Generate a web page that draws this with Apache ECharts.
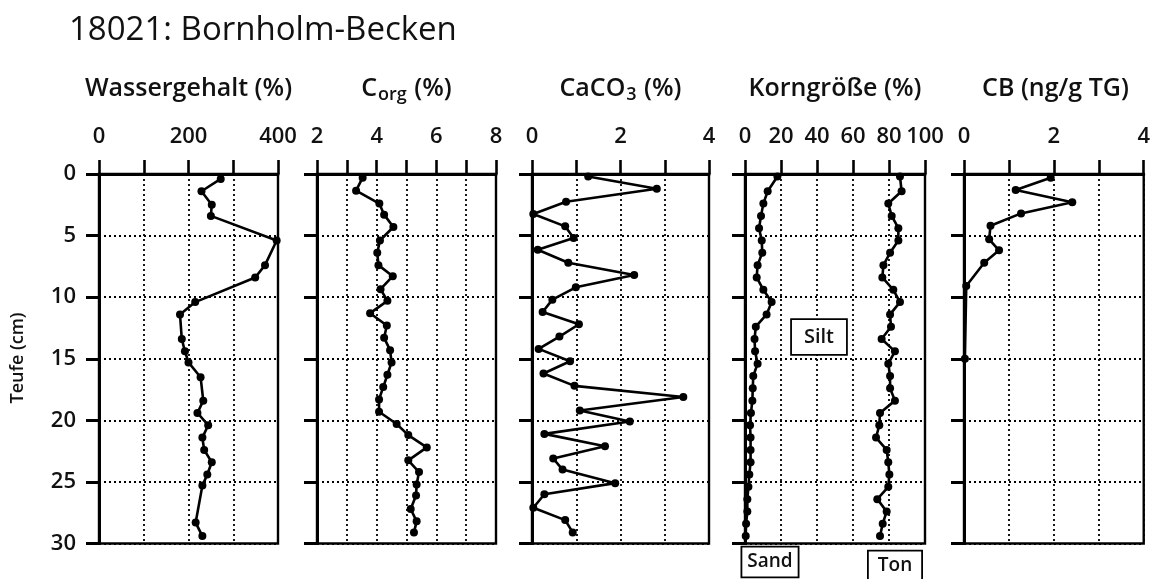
<!DOCTYPE html>
<html><head><meta charset="utf-8">
<script src="https://cdn.jsdelivr.net/npm/echarts@6/dist/echarts.min.js"></script>
<style>html,body{margin:0;padding:0;background:#fff}#c{width:1153px;height:579px}</style>
</head><body><div id="c"></div>
<script>
// ---- data ----
const depthTicks = [0, 5, 10, 15, 20, 25, 30];

const depthW = [0.4,1.4,2.5,3.4,5.4,7.4,8.4,10.4,11.4,13.4,14.4,15.3,16.5,18.4,19.4,20.4,21.4,22.4,23.4,24.4,25.3,28.3,29.4];
const wasser = [272,229,252,250,397,371,349,215,181,185,192,200,227,233,220,244,231,235,252,242,231,216,231];

const depthC = [0.3,1.35,2.4,3.3,4.3,5.4,6.4,7.4,8.3,9.35,10.3,11.3,12.3,13.3,14.3,15.3,16.3,17.3,18.3,19.3,20.3,21.2,22.2,23.25,24.2,25.2,26.1,27.2,28.2,29.1];
const corg = [3.53,3.31,4.09,4.25,4.56,4.11,4.02,4.06,4.54,4.13,4.36,3.78,4.34,4.25,4.45,4.5,4.36,4.22,4.08,4.08,4.67,5.06,5.68,5.06,5.42,5.34,5.32,5.14,5.34,5.25];

const depthK = [0.2,1.2,2.25,3.25,4.25,5.2,6.15,7.2,8.2,9.2,10.2,11.2,12.2,13.2,14.2,15.2,16.2,17.2,18.1,19.2,20.1,21.1,22.1,23.1,24.0,25.1,26.0,27.1,28.1,29.1];
const caco3 = [1.27,2.82,0.77,0.03,0.75,0.94,0.13,0.82,2.31,0.99,0.46,0.24,1.06,0.62,0.15,0.86,0.26,0.96,3.42,1.08,2.21,0.28,1.65,0.48,0.69,1.88,0.28,0.03,0.75,0.92];

const depthG = [0.2,1.4,2.4,3.4,4.4,5.4,6.4,7.4,8.4,9.4,10.4,11.4,12.4,13.4,14.4,15.4,16.4,17.4,18.4,19.4,20.4,21.4,22.4,23.4,24.4,25.4,26.4,27.4,28.4,29.4];
const sand = [18.0,12.6,10.2,8.9,7.8,9.3,9.6,7.0,6.5,10.2,14.8,12.0,6.0,5.3,5.6,7.0,4.6,4.3,4.1,3.3,2.8,3.1,3.1,3.1,2.4,1.9,1.3,1.3,0.6,0.4];
const ton = [86.1,87.0,79.6,81.5,85.2,85.2,80.6,76.9,76.3,82.4,86.1,80.6,81.1,75.9,83.3,79.6,80.6,80.6,83.3,75.0,74.6,72.8,78.7,79.6,80.2,79.6,73.5,78.7,76.5,75.0];

const depthB = [0.3,1.3,2.3,3.2,4.2,5.3,6.2,7.2,9.1,15.0];
const cb = [1.93,1.15,2.41,1.27,0.59,0.56,0.78,0.45,0.05,0.02];

const panelTitles = ['Wassergehalt (%)', '{t|C}{s|org}{t| (%)}', '{t|CaCO}{s|3}{t| (%)}', 'Korngröße (%)', 'CB (ng/g TG)'];
const xMin = [0, 2, 0, 0, 0];
const xMax = [400, 8, 4, 100, 4];
const xStep = [100, 1, 1, 20, 1];
const xLabels = [[0,200,400],[2,4,6,8],[0,2,4],[0,20,40,60,80,100],[0,2,4]];

// ---- layout ----
const FONT = '"Open Sans", "Noto Sans", sans-serif';
const INK = '#111';
const gridLeft = [99, 317, 532, 745, 964];
const gridWidth = [179, 179, 177, 180, 183];
const gridTop = 174, gridHeight = 369.5;

function zip(xs, ys) { return xs.map((x, i) => [x, ys[i]]); }

const grids = [], xAxes = [], yAxes = [];
for (let i = 0; i < 5; i++) {
  grids.push({left: gridLeft[i], top: gridTop, width: gridWidth[i], height: gridHeight,
    show: true, borderColor: '#000', borderWidth: 2.4, backgroundColor: 'transparent'});
  xAxes.push({gridIndex: i, type: 'value', position: 'top', min: xMin[i], max: xMax[i], interval: xStep[i],
    axisLine: {show: true, onZero: false, lineStyle: {color: '#000', width: 3}},
    axisTick: {show: true, inside: false, length: 14, lineStyle: {color: '#000', width: 2.6}},
    axisLabel: {margin: 26, fontSize: 22, fontWeight: 600, color: INK, fontFamily: FONT,
      formatter: v => xLabels[i].indexOf(Math.round(v*1000)/1000) >= 0 ? String(v) : ''},
    splitLine: {show: true, lineStyle: {color: '#000', width: 1.8, type: [2, 3]}}});
  yAxes.push({gridIndex: i, type: 'value', inverse: true, min: 0, max: 30, interval: 5,
    axisLine: {show: true, onZero: false, lineStyle: {color: '#000', width: 3}},
    axisTick: {show: true, inside: false, length: 13, lineStyle: {color: '#000', width: 3}},
    axisLabel: {show: i === 0, margin: 23, fontSize: 22, fontWeight: 600, color: INK, fontFamily: FONT,
      formatter: v => depthTicks.indexOf(v) >= 0 ? String(v) : ''},
    splitLine: {show: true, lineStyle: {color: '#000', width: 1.8, type: [2, 3]}}});
}

function lineSeries(i, xs, ys) {
  return {type: 'line', xAxisIndex: i, yAxisIndex: i, data: zip(xs, ys), clip: false,
    symbol: 'circle', symbolSize: 8, showSymbol: true,
    lineStyle: {color: '#000', width: 2.6}, itemStyle: {color: '#000'}, z: 5};
}

const series = [
  lineSeries(0, wasser, depthW),
  lineSeries(1, corg, depthC),
  lineSeries(2, caco3, depthK),
  lineSeries(3, sand, depthG),
  lineSeries(3, ton, depthG),
  lineSeries(4, cb, depthB)
];

const richT = {t: {fontSize: 25, fontWeight: 600, fontFamily: FONT, color: INK},
               s: {fontSize: 18, fontWeight: 600, fontFamily: FONT, color: INK, padding: [12, 1, 0, 1]}};
const graphics = [
  {type: 'text', x: 69, y: 31, style: {text: '18021: Bornholm-Becken', font: '33px ' + FONT, fill: INK, textVerticalAlign: 'middle'}},
  {type: 'text', x: 18, y: 358, rotation: Math.PI / 2, style: {text: 'Teufe (cm)', font: '600 18px ' + FONT, fill: INK, textAlign: 'center', textVerticalAlign: 'middle'}}
];
for (let i = 0; i < 5; i++) {
  const cx = gridLeft[i] + gridWidth[i] / 2;
  graphics.push({type: 'text', x: cx, y: 89, style: {text: panelTitles[i], rich: richT, font: '600 25px ' + FONT, fill: INK, textAlign: 'center', textVerticalAlign: 'middle'}});
}
function boxLabel(txt, x, y, size, pad) {
  return {type: 'text', x: x, y: y, z: 20, style: {text: txt, font: '600 ' + size + 'px ' + FONT, fill: INK, textAlign: 'center', textVerticalAlign: 'middle',
    backgroundColor: '#fff', borderColor: '#000', borderWidth: 1.8, padding: pad}};
}
graphics.push(boxLabel('Silt', 819, 337, 20, [7, 12, 7, 12]));
graphics.push(boxLabel('Sand', 770, 562, 19, [5, 5, 5, 5]));
graphics.push(boxLabel('Ton', 895, 566, 19, [5, 9, 5, 9]));

const chart = echarts.init(document.getElementById('c'), null, {renderer: 'canvas'});
chart.setOption({
  animation: false,
  backgroundColor: '#fff',
  grid: grids, xAxis: xAxes, yAxis: yAxes, series: series, graphic: graphics
});
</script>
</body></html>
